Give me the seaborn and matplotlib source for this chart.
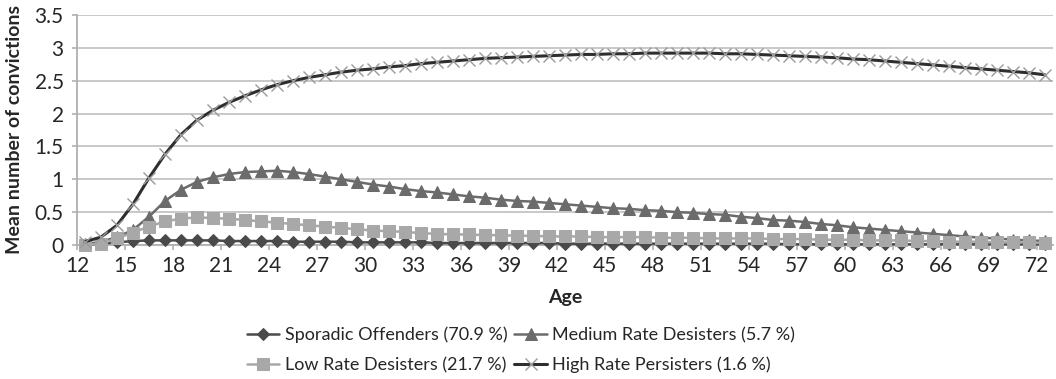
import numpy as np
import pandas as pd
import matplotlib
matplotlib.use("Agg")
import matplotlib.pyplot as plt
import seaborn as sns

ages = list(range(12, 73))

sporadic = [0.00, 0.02, 0.04, 0.06, 0.07, 0.07, 0.07, 0.07, 0.07, 0.06,
            0.06, 0.06, 0.06, 0.05, 0.05, 0.05, 0.05, 0.04, 0.04, 0.04,
            0.04, 0.04, 0.03, 0.03, 0.03, 0.03, 0.03, 0.03, 0.03, 0.03,
            0.02, 0.02, 0.02, 0.02, 0.02, 0.02, 0.02, 0.02, 0.02, 0.02,
            0.02, 0.02, 0.02, 0.02, 0.01, 0.01, 0.01, 0.01, 0.01, 0.01,
            0.01, 0.01, 0.01, 0.01, 0.01, 0.01, 0.01, 0.01, 0.01, 0.01,
            0.01]

medium = [0.01, 0.05, 0.12, 0.23, 0.43, 0.67, 0.84, 0.96, 1.03, 1.08,
          1.11, 1.12, 1.13, 1.11, 1.08, 1.04, 1.00, 0.96, 0.92, 0.89,
          0.85, 0.82, 0.80, 0.77, 0.74, 0.72, 0.69, 0.67, 0.66, 0.64,
          0.62, 0.60, 0.58, 0.56, 0.55, 0.53, 0.52, 0.50, 0.49, 0.47,
          0.46, 0.43, 0.41, 0.38, 0.37, 0.35, 0.32, 0.30, 0.27, 0.25,
          0.23, 0.21, 0.19, 0.17, 0.15, 0.13, 0.11, 0.10, 0.08, 0.07,
          0.06]

low = [0.00, 0.02, 0.10, 0.19, 0.28, 0.36, 0.40, 0.42, 0.41, 0.40,
       0.38, 0.36, 0.34, 0.32, 0.30, 0.28, 0.26, 0.24, 0.22, 0.21,
       0.20, 0.18, 0.17, 0.16, 0.16, 0.15, 0.15, 0.14, 0.14, 0.13,
       0.13, 0.13, 0.12, 0.12, 0.12, 0.12, 0.11, 0.11, 0.11, 0.10,
       0.10, 0.10, 0.10, 0.09, 0.09, 0.09, 0.08, 0.08, 0.08, 0.07,
       0.07, 0.07, 0.06, 0.06, 0.05, 0.05, 0.05, 0.04, 0.04, 0.04,
       0.03]

high = [0.05, 0.12, 0.30, 0.62, 1.02, 1.38, 1.68, 1.90, 2.05, 2.17,
        2.27, 2.36, 2.44, 2.50, 2.55, 2.59, 2.63, 2.66, 2.68, 2.71,
        2.73, 2.76, 2.78, 2.80, 2.82, 2.84, 2.85, 2.86, 2.87, 2.88,
        2.89, 2.90, 2.90, 2.91, 2.91, 2.92, 2.92, 2.92, 2.92, 2.92,
        2.91, 2.91, 2.90, 2.89, 2.88, 2.87, 2.86, 2.85, 2.83, 2.82,
        2.80, 2.78, 2.76, 2.74, 2.72, 2.70, 2.68, 2.66, 2.64, 2.62,
        2.59]

series_labels = ["Sporadic Offenders (70.9 %)", "Medium Rate Desisters (5.7 %)",
                 "Low Rate Desisters (21.7 %)", "High Rate Persisters (1.6 %)"]
tick_ages = list(range(12, 73, 3))
y_ticks = [0, 0.5, 1, 1.5, 2, 2.5, 3, 3.5]
y_tick_labels = ["0", "0.5", "1", "1.5", "2", "2.5", "3", "3.5"]

sns.set_theme(style="white")
plt.rcParams["font.family"] = ["Lato", "DejaVu Sans"]

fig = plt.figure(figsize=(10.56, 3.79), dpi=100)
ax = fig.add_axes([0.0729, 0.3536, 0.9241, 0.6068])

styles = [
    dict(color="#4a4a4a", marker="D", markersize=6.5, linewidth=1.8,
         markerfacecolor="#4a4a4a", markeredgecolor="#4a4a4a"),
    dict(color="#6b6b6b", marker="^", markersize=8.5, linewidth=1.8,
         markerfacecolor="#6b6b6b", markeredgecolor="#6b6b6b"),
    dict(color="#a8a8a8", marker="s", markersize=8, linewidth=1.8,
         markerfacecolor="#a8a8a8", markeredgecolor="#a8a8a8"),
    dict(color="#2e2e2e", marker="x", markersize=9, linewidth=2.2,
         markeredgecolor="#9a9a9a", markeredgewidth=1.0),
]

for vals, lab, st in zip([sporadic, medium, low, high], series_labels, styles):
    sns.lineplot(x=ages, y=vals, ax=ax, label=lab, clip_on=False, zorder=3, **st)

ax.set_xlim(11.5, 72.5)
ax.set_ylim(0, 3.5)
ax.set_xticks([a - 0.5 for a in tick_ages])
ax.set_xticklabels([str(a) for a in tick_ages], fontsize=15)
ax.set_yticks(y_ticks)
ax.set_yticklabels(y_tick_labels, fontsize=15)
ax.yaxis.grid(True, color="#c4c4c4", linewidth=1.3)
ax.xaxis.grid(False)
for side in ["top", "right"]:
    ax.spines[side].set_visible(False)
for side in ["left", "bottom"]:
    ax.spines[side].set_color("#b0b0b0")
    ax.spines[side].set_linewidth(1.3)
ax.tick_params(axis="x", bottom=True, length=3.6, width=1.2, color="#b0b0b0", pad=4)
ax.tick_params(axis="y", left=True, length=3.6, width=1.2, color="#b0b0b0", pad=6)

ax.set_xlabel("Age", fontsize=14, fontweight="bold", labelpad=10)
ax.set_ylabel("Mean number of convictions", fontsize=14, fontweight="bold", labelpad=8)

handles, labels = ax.get_legend_handles_labels()
order = [0, 2, 1, 3]
ax.legend([handles[i] for i in order], [labels[i] for i in order],
          ncol=2, loc="upper center", bbox_to_anchor=(0.455, -0.285),
          frameon=False, fontsize=13, handlelength=1.8, handletextpad=0.3,
          columnspacing=0.4, labelspacing=0.75)

fig.savefig("out.png", dpi=100)
